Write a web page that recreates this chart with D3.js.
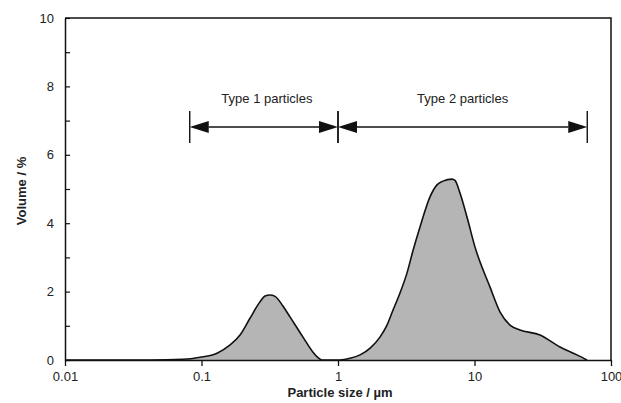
<!DOCTYPE html>
<html>
<head>
<meta charset="utf-8">
<script src="https://cdn.jsdelivr.net/npm/d3@7"></script>
<style>
  body { margin: 0; background: #fff; }
  svg { font-family: "Liberation Sans", Arial, Helvetica, sans-serif; }
</style>
</head>
<body>
<svg id="chart" width="621" height="403"></svg>
<script>
// Particle size (µm) and volume (%) of the measured distribution
const sizes = [0.01, 0.042, 0.0732, 0.0975, 0.130, 0.162, 0.1915, 0.2266, 0.268, 0.292, 0.3176, 0.3455,
  0.395, 0.445, 0.554, 0.656, 0.714, 0.763, 1.034, 1.224, 1.45, 1.72, 2.03, 2.286, 2.53, 2.846,
  3.2, 3.544, 3.988, 4.72, 5.31, 5.875, 6.84, 7.2, 7.83, 8.81, 10.09, 13.0, 15.4, 18.2, 21.5,
  30.2, 42.3, 56.3, 66.7];
const volumes = [0, 0, 0.02, 0.08, 0.2, 0.44, 0.73, 1.22, 1.7, 1.87, 1.9, 1.86,
  1.58, 1.26, 0.67, 0.23, 0.07, 0, 0, 0.05, 0.15, 0.35, 0.67, 1.02, 1.46, 1.96,
  2.54, 3.2, 3.89, 4.77, 5.12, 5.23, 5.29, 5.25, 4.88, 4.18, 3.3, 2.13, 1.4, 1.02, 0.88,
  0.73, 0.38, 0.15, 0];

// Axis ticks
const xTicks = [0.01, 0.1, 1, 10, 100];
const xTickLabels = ["0.01", "0.1", "1", "10", "100"];
const yTicks = [0, 1, 2, 3, 4, 5, 6, 7, 8, 9, 10];
const yTickLabels = ["0", "", "2", "", "4", "", "6", "", "8", "", "10"];

// Size ranges of the two particle types
const rangeNames = ["Type 1 particles", "Type 2 particles"];
const rangeStart = [0.082, 1];
const rangeEnd = [1, 67];

const svg = d3.select("#chart");
const plotL = 65, plotR = 611, plotT = 18, plotB = 360;

const x = d3.scaleLog().domain([0.01, 100]).range([plotL, plotR]);
const y = d3.scaleLinear().domain([0, 10]).range([plotB, plotT]);

const pts = sizes.map((s, i) => ({ s, v: volumes[i] }));

// Filled distribution
svg.append("path")
  .datum(pts)
  .attr("fill", "#b5b5b5")
  .attr("d", d3.area().x(d => x(d.s)).y0(y(0)).y1(d => y(d.v)).curve(d3.curveMonotoneX));

svg.append("path")
  .datum(pts)
  .attr("fill", "none")
  .attr("stroke", "#111")
  .attr("stroke-width", 1.6)
  .attr("stroke-linejoin", "round")
  .attr("d", d3.line().x(d => x(d.s)).y(d => y(d.v)).curve(d3.curveMonotoneX));

// Frame (top and right edges)
svg.append("path")
  .attr("fill", "none")
  .attr("stroke", "#111")
  .attr("stroke-width", 1.5)
  .attr("d", `M${plotL},${plotT}H${plotR}V${plotB}`);

// X axis
const xAxis = svg.append("g")
  .attr("transform", `translate(0,${plotB})`)
  .call(d3.axisBottom(x).tickValues(xTicks).tickSize(6).tickSizeOuter(0)
    .tickFormat((d, i) => xTickLabels[i]));
xAxis.select(".domain").attr("stroke", "#111").attr("stroke-width", 1.5);
xAxis.selectAll(".tick line").attr("stroke", "#111").attr("stroke-width", 1.3);
xAxis.selectAll(".tick text").attr("font-size", 13).attr("fill", "#222").attr("dy", "0.9em");

// Y axis (ticks point inward)
const yAxis = svg.append("g")
  .attr("transform", `translate(${plotL},0)`)
  .call(d3.axisLeft(y).tickValues(yTicks).tickSize(-5).tickSizeOuter(0)
    .tickFormat((d, i) => yTickLabels[i]));
yAxis.select(".domain").attr("stroke", "#111").attr("stroke-width", 1.5);
yAxis.selectAll(".tick line").attr("stroke", "#111").attr("stroke-width", 1.2);
yAxis.selectAll(".tick text").attr("font-size", 13).attr("fill", "#222").attr("x", -11);

// Axis titles
svg.append("text")
  .attr("x", (plotL + plotR) / 2 + 2)
  .attr("y", 397)
  .attr("text-anchor", "middle")
  .attr("font-size", 13)
  .attr("font-weight", "bold")
  .attr("fill", "#222")
  .text("Particle size / µm");

svg.append("text")
  .attr("transform", `translate(26,${(plotT + plotB) / 2 + 2}) rotate(-90)`)
  .attr("text-anchor", "middle")
  .attr("font-size", 13)
  .attr("font-weight", "bold")
  .attr("fill", "#222")
  .text("Volume / %");

// Range arrows
const arrowY = 127, barTop = 111, barBottom = 143;
const headLen = 19, headHalf = 6;
const ranges = rangeNames.map((name, i) => ({ name, a: rangeStart[i], b: rangeEnd[i] }));

const g = svg.append("g");
ranges.forEach((r, i) => {
  const xa = x(r.a), xb = x(r.b);
  g.append("line").attr("x1", xa).attr("x2", xa).attr("y1", barTop).attr("y2", barBottom)
    .attr("stroke", "#111").attr("stroke-width", 1.4);
  g.append("line").attr("x1", xb).attr("x2", xb).attr("y1", barTop).attr("y2", barBottom)
    .attr("stroke", "#111").attr("stroke-width", 1.4);
  g.append("line").attr("x1", xa + headLen).attr("x2", xb - headLen).attr("y1", arrowY).attr("y2", arrowY)
    .attr("stroke", "#111").attr("stroke-width", 1.4);
  g.append("path").attr("fill", "#111")
    .attr("d", `M${xa},${arrowY}L${xa + headLen},${arrowY - headHalf}L${xa + headLen},${arrowY + headHalf}Z`);
  g.append("path").attr("fill", "#111")
    .attr("d", `M${xb},${arrowY}L${xb - headLen},${arrowY - headHalf}L${xb - headLen},${arrowY + headHalf}Z`);
  g.append("text")
    .attr("x", (xa + xb) / 2 + (i === 0 ? 3 : 0))
    .attr("y", 103)
    .attr("text-anchor", "middle")
    .attr("font-size", 13)
    .attr("fill", "#222")
    .text(r.name);
});
</script>
</body>
</html>
